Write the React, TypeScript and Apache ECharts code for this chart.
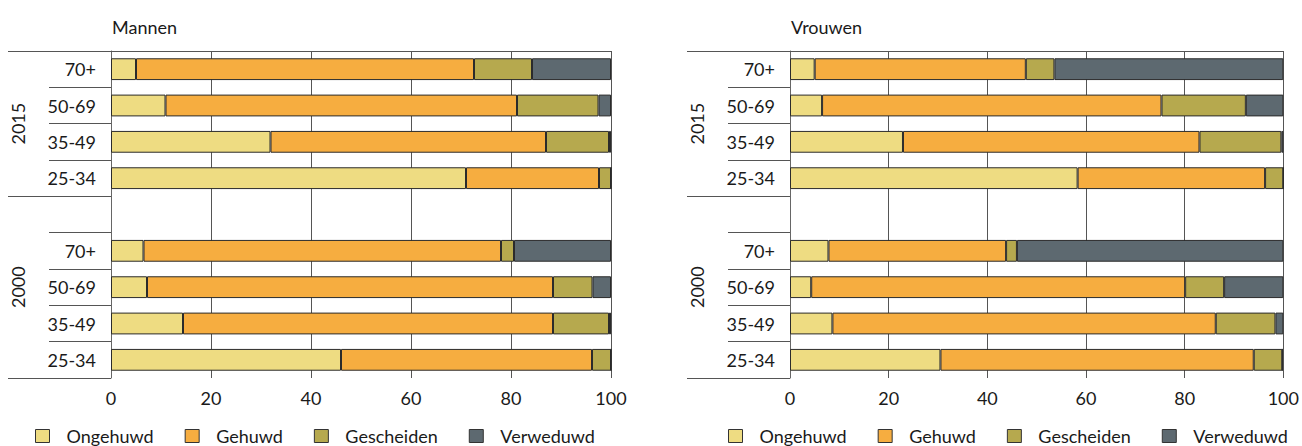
import React, { useEffect, useRef } from "react";
import * as echarts from "echarts";

// Categories (top to bottom); the empty slot separates the two years
const ageGroups = ["70+", "50-69", "35-49", "25-34"];
const yearLabels = ["2015", "2000"];
const statuses = ["Ongehuwd", "Gehuwd", "Gescheiden", "Verweduwd"];
const panelTitles = ["Mannen", "Vrouwen"];

// Values in %, order: 2015 (70+, 50-69, 35-49, 25-34), then 2000 (70+, 50-69, 35-49, 25-34)
const mannenOngehuwd = [5.0, 10.9, 31.9, 71.0, 6.5, 7.2, 14.4, 46.0];
const mannenGehuwd = [67.6, 70.3, 55.1, 26.6, 71.5, 81.2, 74.0, 50.2];
const mannenGescheiden = [11.6, 16.3, 12.6, 2.4, 2.6, 7.9, 11.2, 3.8];
const mannenVerweduwd = [15.8, 2.5, 0.4, 0, 19.4, 3.7, 0.4, 0];

const vrouwenOngehuwd = [5.0, 6.5, 22.9, 58.3, 7.8, 4.3, 8.6, 30.5];
const vrouwenGehuwd = [42.8, 68.8, 60.1, 38.0, 36.0, 75.8, 77.7, 63.5];
const vrouwenGescheiden = [5.8, 17.1, 16.6, 3.7, 2.2, 7.9, 12.1, 5.8];
const vrouwenVerweduwd = [46.4, 7.6, 0.4, 0, 54.0, 12.0, 1.6, 0];

const xTicks = [0, 20, 40, 60, 80, 100];

const colors = ["#EEDC82", "#F6AD40", "#B6A94E", "#5D6970"];
const FONT = "Lato";
const FS = 18;
const TEXT = "#1a1a1a";
const LINE = "#555555";

const categories = [...ageGroups, "", ...ageGroups];
const toSlots = (arr: number[]) => [...arr.slice(0, 4), null, ...arr.slice(4)];

const panels = [
  [mannenOngehuwd, mannenGehuwd, mannenGescheiden, mannenVerweduwd],
  [vrouwenOngehuwd, vrouwenGehuwd, vrouwenGescheiden, vrouwenVerweduwd],
];

export default function App() {
  const ref = useRef<HTMLDivElement>(null);

  useEffect(() => {
    if (!ref.current) return;
    const chart = echarts.init(ref.current, null, { renderer: "svg" });

    const gridLefts = [111, 790];
    const legendLefts = [35, 728];

    const grids = gridLefts.map((l) => ({ left: l, width: 500, top: 51, bottom: 68 }));

    const xAxes = gridLefts.map((_, i) => ({
      type: "value",
      gridIndex: i,
      min: xTicks[0],
      max: xTicks[xTicks.length - 1],
      interval: xTicks[1] - xTicks[0],
      axisLine: { show: true, lineStyle: { color: LINE, width: 1 } },
      axisTick: { show: false },
      axisLabel: { margin: 11, fontSize: FS, fontFamily: FONT, color: TEXT },
      splitLine: { show: true, lineStyle: { color: LINE, width: 1 } },
    }));

    const yAxes: any[] = [];
    gridLefts.forEach((_, i) => {
      yAxes.push({
        type: "category",
        gridIndex: i,
        inverse: true,
        data: categories,
        axisLine: { show: true, lineStyle: { color: "#666", width: 1 } },
        axisTick: { show: true, interval: 0, length: 62, lineStyle: { color: LINE, width: 1 } },
        axisLabel: { interval: 0, margin: 15, fontSize: FS, fontFamily: FONT, color: TEXT },
        splitLine: { show: false },
      });
      yAxes.push({
        type: "value",
        gridIndex: i,
        position: "left",
        inverse: true,
        min: 0,
        max: categories.length,
        axisLine: { show: false },
        axisTick: {
          show: true,
          length: 103,
          customValues: [0, ageGroups.length, categories.length],
          lineStyle: { color: LINE, width: 1 },
        },
        axisLabel: {
          show: true,
          rotate: 90,
          margin: 84,
          fontSize: FS,
          fontFamily: FONT,
          color: TEXT,
          customValues: [ageGroups.length / 2, (ageGroups.length + categories.length) / 2],
          formatter: (v: number) => (v < ageGroups.length ? yearLabels[0] : yearLabels[1]),
        },
        splitLine: { show: false },
      });
    });

    const series: any[] = [];
    panels.forEach((panel, p) => {
      panel.forEach((vals, s) => {
        series.push({
          type: "bar",
          name: statuses[s],
          stack: "panel" + p,
          xAxisIndex: p,
          yAxisIndex: p * 2,
          barWidth: "60%",
          itemStyle: { color: colors[s], borderColor: "#2b2b2b", borderWidth: 1 },
          emphasis: { disabled: true },
          data: toSlots(vals),
        });
      });
    });

    chart.setOption({
      animation: false,
      backgroundColor: "#ffffff",
      title: panelTitles.map((t, i) => ({
        text: t,
        left: gridLefts[i] + 1,
        top: 18,
        padding: 0,
        textStyle: { fontSize: FS, fontWeight: "normal", fontFamily: FONT, color: TEXT },
      })),
      legend: legendLefts.map((l) => ({
        left: l,
        top: 427,
        padding: 0,
        icon: "rect",
        itemWidth: 14,
        itemHeight: 13,
        itemGap: 31,
        data: statuses,
        selectedMode: false,
        itemStyle: { borderColor: "#333", borderWidth: 1 },
        textStyle: {
          fontSize: FS,
          lineHeight: 18,
          fontFamily: FONT,
          color: TEXT,
          padding: [0, 0, 0, 12],
        },
      })),
      grid: grids,
      xAxis: xAxes,
      yAxis: yAxes,
      series,
    });

    return () => chart.dispose();
  }, []);

  return (
    <div
      ref={ref}
      style={{ position: "fixed", left: 0, top: 0, width: 1302, height: 446, background: "#fff" }}
    />
  );
}
